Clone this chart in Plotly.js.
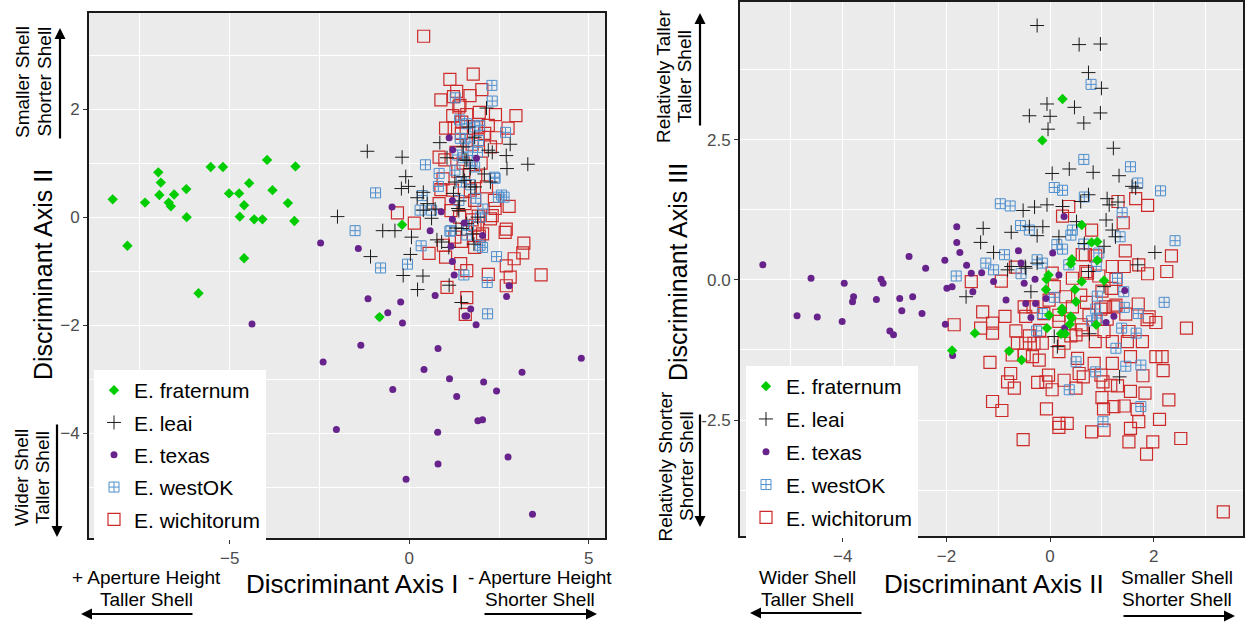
<!DOCTYPE html>
<html>
<head>
<meta charset="utf-8">
<script src="https://cdn.plot.ly/plotly-3.0.1.min.js"></script>
<style>
  html, body { margin: 0; padding: 0; background: #ffffff; }
  #chart { width: 1246px; height: 625px; }
</style>
</head>
<body>
<div id="chart"></div>
<script>
// ---------------- DATA ----------------
const species = ["E. fraternum", "E. leai", "E. texas", "E. westOK", "E. wichitorum"];

// Left panel: Discriminant Axis I (x) vs Discriminant Axis II (y)
const fraternumAx1 = [-8.26,-7.85,-7.36,-6.99,-6.92,-6.96,-6.70,-6.64,-6.55,-6.21,-6.20,-5.87,-5.53,-5.19,-5.02,-4.74,-4.46,-4.60,-4.72,-4.60,-4.32,-4.09,-3.96,-3.81,-3.38,-3.17,-3.20,-0.20,-0.83];
const fraternumAx2 = [0.33,-0.53,0.27,0.83,0.64,0.41,0.27,0.20,0.42,0.52,0.00,-1.41,0.93,0.93,0.44,0.44,0.63,0.22,0.01,-0.76,-0.04,-0.04,1.06,0.50,0.26,0.94,-0.07,-0.14,-1.85];

const leaiAx1 = [-1.17,-0.20,-2.00,-0.10,-0.02,-0.22,0.22,-0.74,-0.40,0.06,-1.08,0.03,-0.17,0.38,0.23,1.11,1.45,3.30,2.81,2.70,2.72,2.31,0.85,1.05,1.65,1.82,2.15,0.39,0.50,0.72,1.38,0.77,1.10,1.60,1.76,1.60,1.54,1.71,1.27,2.09,2.26,0.90,1.46,1.36,0.39,0.62,2.20,1.55,1.50,1.83,1.23,1.50,1.70,1.40,1.90,1.30,1.80];
const leaiAx2 = [1.22,1.11,0.01,0.75,0.57,0.53,0.36,-0.25,-0.25,-0.37,-0.73,-0.69,-1.08,-1.09,-1.34,-1.26,-1.58,0.98,1.35,1.14,0.90,1.20,1.38,1.10,1.67,1.48,2.02,0.46,0.25,0.15,0.12,-0.42,-0.56,-0.12,-0.31,1.05,0.68,0.56,0.65,0.80,0.65,-0.46,-0.21,0.16,0.13,-0.02,1.24,1.06,0.75,0.56,0.44,1.30,0.90,0.30,0.00,-0.20,-0.50];

const texasAx1 = [-2.47,-1.42,-0.48,0.58,0.89,1.11,1.21,1.87,1.20,1.16,1.20,1.25,0.72,-1.15,-0.24,1.71,2.04,2.78,2.71,1.55,1.86,-0.60,-0.83,-4.38,-0.19,1.60,-1.35,0.80,-2.40,0.41,1.12,2.07,3.14,4.79,-0.46,2.43,1.32,1.91,2.04,-2.03,0.79,2.75,0.80,-0.09,3.43,1.20,1.53];
const texasAx2 = [-0.48,-0.58,0.19,-0.25,0.10,1.47,1.25,1.09,-0.04,-0.54,-0.82,-1.07,-1.45,-1.51,-1.57,-1.70,-0.34,-1.27,-1.47,-1.83,-1.99,-1.77,-1.85,-1.98,-1.96,-1.83,-2.37,-2.43,-2.68,-2.82,-2.99,-3.05,-2.87,-2.61,-3.19,-3.22,-3.32,-3.77,-3.75,-3.93,-3.98,-4.44,-4.57,-4.85,-5.50,0.31,-0.11];

const westOKAx1 = [-0.94,-1.51,-0.80,-0.05,0.45,0.36,0.33,0.83,1.42,2.30,2.31,2.68,2.43,1.52,2.17,1.98,2.48,2.64,1.28,2.04,1.16,1.38,1.82,1.60,1.93,2.37,2.18,1.13,1.97,1.60,0.30,0.62,1.83,1.64,1.27,0.81,2.39,2.57,1.50,1.70,1.40,1.90,1.55,1.75,1.45,1.85,1.65,2.05,1.35,1.95];
const westOKAx2 = [0.45,-0.25,-0.94,-0.87,0.97,0.40,-0.53,0.81,1.46,2.44,2.15,1.57,-0.73,-1.07,-1.21,0.00,0.37,0.37,2.21,-0.56,-0.25,0.31,0.93,1.73,1.42,0.74,-1.79,-0.26,-0.52,-0.33,0.13,0.13,1.67,1.30,0.87,0.57,0.72,0.41,1.10,0.60,1.80,1.20,1.45,1.05,0.65,0.35,-0.15,0.15,1.15,1.70];

const wichitorumAx1 = [0.40,1.78,1.13,1.32,2.02,1.69,0.88,1.95,2.40,2.97,1.21,1.01,2.75,2.42,2.26,-0.33,0.14,0.88,2.78,2.70,2.67,3.19,3.16,2.92,2.70,3.67,2.81,2.20,0.55,1.01,1.43,1.60,2.70,1.05,2.26,2.31,1.93,1.38,1.60,0.83,0.94,0.83,1.16,1.82,2.15,2.37,2.04,1.27,1.82,1.60,1.56,0.95,1.92,2.39,1.83,1.23,1.41,1.46,2.20,1.92,0.99,1.50,1.70,1.40,1.90,1.60,1.30,2.00,1.20,1.45,1.75,1.35,1.85,1.55,1.75,1.95,1.45,2.10,1.25];
const wichitorumAx2 = [3.35,2.65,2.55,2.33,2.36,2.25,2.17,1.94,1.90,1.88,1.88,1.65,1.65,1.47,1.30,0.08,-0.11,0.51,0.20,-0.22,-0.28,-0.48,-0.66,-0.77,-0.90,-1.07,-1.11,-1.06,-0.67,-0.74,-0.86,-1.49,-1.27,-1.30,-0.03,0.03,1.67,2.04,1.42,1.11,0.71,0.25,0.12,0.31,0.56,0.31,-0.31,-0.37,-0.56,-0.99,-1.80,-0.52,0.02,0.16,-0.15,2.23,2.07,1.76,1.70,1.43,1.06,1.00,0.50,0.00,-0.20,1.90,1.20,1.00,0.50,1.55,1.35,0.85,0.75,0.25,-0.05,-0.35,-0.45,1.55,1.65];

// Right panel: Discriminant Axis II (x) vs Discriminant Axis III (y)
const fraternumR2 = [0.24,-0.15,0.61,0.80,0.91,0.42,0.40,0.91,-0.03,-0.07,1.04,0.61,-0.08,0.48,0.50,0.23,-0.02,0.40,0.23,0.42,0.38,-0.06,0.21,0.29,0.89,-1.45,-0.79,-0.55,-1.89];
const fraternumR3 = [3.23,2.49,0.98,0.67,0.68,0.37,0.29,0.35,0.09,0.01,-0.01,-0.03,-0.17,-0.17,-0.39,-0.51,-0.63,-0.65,-0.57,-0.68,-0.79,-0.86,-0.96,-0.96,-0.80,-0.95,-1.27,-1.43,-1.26];

const leaiR2 = [-0.25,0.56,0.97,0.74,0.99,-0.06,0.47,-0.40,0.00,0.97,0.65,-0.04,1.22,0.04,0.37,0.83,1.33,1.58,0.74,1.10,1.31,-0.52,-0.30,-0.06,0.24,0.59,-1.29,-0.75,-0.40,-0.14,0.51,1.08,-1.34,-1.09,-0.25,0.17,0.66,1.04,1.26,2.02,1.69,-0.75,-0.48,-0.25,0.74,-1.62,-0.37,1.65,1.14,1.20,1.04,-0.47,-0.82,0.08,0.14,0.76,1.34];
const leaiR3 = [4.54,4.20,4.21,3.70,3.42,3.14,3.08,2.93,2.92,2.98,2.80,2.69,2.35,1.90,1.98,1.92,1.86,1.67,1.52,1.45,1.39,1.24,1.30,1.34,1.31,1.40,0.92,0.85,0.95,0.95,1.04,1.07,0.67,0.49,0.79,0.77,0.65,0.60,0.77,0.49,0.27,0.24,0.24,0.30,0.15,-0.30,-0.21,1.64,1.34,0.89,-0.12,0.21,0.18,-1.01,-1.19,-0.96,-1.73];

const texasR2 = [-5.54,-4.61,-3.97,-3.26,-3.22,-3.79,-3.81,-3.35,-2.90,-2.65,-2.72,-2.40,-2.03,-1.80,-1.80,-1.74,-1.61,-1.52,-1.49,-1.99,-1.89,-0.61,-0.56,-0.50,-0.29,-0.85,-1.09,0.27,0.05,0.17,-4.88,-4.49,-4.01,-3.09,-3.02,-2.86,-2.47,-2.02,-1.88,-0.37,0.28,1.08,1.23,-1.32,-0.47,-0.28,-0.08,1.44];
const texasR3 = [0.27,0.03,-0.06,0.01,-0.06,-0.30,-0.39,-0.35,-0.33,-0.30,0.42,0.21,0.35,0.95,0.67,0.49,0.26,0.12,-0.21,-0.15,-0.12,0.52,0.30,-0.06,0.01,-0.36,-0.03,1.13,0.48,0.09,-0.64,-0.66,-0.74,-0.91,-0.98,-0.55,-0.60,-0.79,-1.35,-0.67,-0.86,-0.76,-0.65,0.13,-0.42,-0.42,-0.33,-0.19];

const westOKR2 = [0.79,0.65,1.55,0.08,0.24,1.69,2.13,-0.96,-0.77,0.66,1.39,2.41,-0.57,-0.40,0.13,0.40,0.65,1.35,-1.24,-1.09,-0.88,-1.81,-0.56,-0.25,0.36,0.89,1.42,2.20,0.43,0.24,-0.15,1.30,0.08,0.91,0.88,1.43,1.70,-0.15,-0.26,0.91,1.38,1.66,1.27,0.50,0.88,1.46,1.75,0.37,1.75,1.02,0.94,0.80];
const westOKR3 = [3.49,2.15,2.02,1.65,1.60,1.73,1.59,1.36,1.32,1.48,1.20,0.70,0.97,0.89,0.63,0.80,0.64,0.77,0.30,0.18,0.45,0.07,0.11,0.36,0.27,0.24,-0.21,-0.40,0.89,0.55,0.30,0.03,-0.31,-0.29,-0.52,-0.49,-0.60,-0.60,-0.91,-0.68,-0.86,-0.95,-1.22,-1.46,-1.64,-1.54,-1.52,-1.96,-2.26,-2.53,0.48,-0.73];

const wichitorumR2 = [1.31,1.65,1.88,0.24,0.36,0.80,1.41,1.45,1.71,1.88,2.25,2.34,0.68,-1.52,-0.94,1.20,1.27,0.88,0.43,0.72,0.94,0.08,0.59,1.19,1.70,1.91,1.46,1.07,0.43,-0.02,0.17,0.75,1.23,1.43,-1.30,-0.87,-0.50,-0.33,-0.67,-0.12,0.04,-1.85,-1.34,-1.11,-1.11,-0.66,-0.47,-0.63,-0.47,-0.31,-0.15,-0.50,-0.34,-0.21,-0.73,-1.16,0.17,0.27,0.50,0.62,0.87,1.04,1.20,1.49,1.52,1.78,1.87,2.04,2.63,0.17,0.53,0.85,0.56,0.64,0.98,1.20,1.55,1.79,2.04,2.16,2.18,-0.76,-0.82,-0.69,-0.24,-0.08,-0.03,0.04,0.27,0.50,1.02,1.17,1.30,1.55,1.83,1.00,-1.11,-0.93,-0.07,1.03,1.23,1.43,1.68,2.29,0.17,0.17,0.33,1.55,1.71,2.11,0.80,1.04,-0.52,1.52,1.98,2.52,1.86,3.34,0.62,0.69,1.27,0.98,0.30,0.70,1.00,0.60,1.10,0.40,-0.20,-0.40];
const wichitorumR3 = [1.40,1.45,1.33,1.14,1.31,0.89,1.02,0.52,0.27,0.11,0.15,0.43,0.45,-0.03,-0.02,0.24,0.01,0.43,0.03,0.12,0.07,-0.12,-0.27,-0.15,-0.43,-0.66,-0.61,-0.48,-0.48,-0.36,-0.63,-0.63,-0.48,0.24,-0.57,-0.65,-0.48,-0.48,0.23,-0.60,0.12,-0.80,-0.86,-0.77,-0.95,-0.91,-0.65,-1.13,-1.13,-1.13,-1.13,-1.34,-1.37,-1.43,-1.34,-1.47,-0.74,-1.13,-0.98,-0.89,-1.10,-0.92,-1.10,-1.10,-0.92,-1.10,-0.71,-0.76,-0.86,-1.28,-1.40,-1.49,-1.67,-1.73,-1.70,-1.49,-1.37,-1.71,-1.37,-1.37,-1.62,-1.67,-1.82,-1.93,-1.83,-1.82,-1.70,-1.96,-1.79,-1.93,-1.82,-1.88,-1.89,-1.99,-2.02,-2.10,-2.17,-2.33,-2.30,-2.30,-2.26,-2.25,-2.31,-2.14,-2.56,-2.63,-2.56,-2.65,-2.53,-2.49,-2.71,-2.68,-2.85,-2.89,-2.89,-2.83,-3.11,-4.14,0.45,0.15,-0.45,-0.52,-0.30,-0.40,-0.20,-0.80,-0.70,-1.00,-0.90,-1.00];

const leftXTicks = [-5, 0, 5];
const leftYTicks = [-4, -2, 0, 2];
const rightXTicks = [-4, -2, 0, 2];
const rightYTicks = [-2.5, 0, 2.5];
const rightYTickText = ["-2.5", "0.0", "2.5"];

// ---------------- STYLE ----------------
const W = 1246, H = 625;
const FONT = "Liberation Sans, Arial, sans-serif";
const styles = {
  "E. fraternum":  {symbol: "diamond", size: 8, color: "#00CD00", lw: 0, rank: 1},
  "E. leai":       {symbol: "cross-thin-open", size: 10, color: "#1A1A1A", lw: 1, rank: 2},
  "E. texas":      {symbol: "circle", size: 7, color: "#68228B", lw: 0, rank: 3},
  "E. westOK":     {symbol: "square-cross-open", size: 10, color: "#4F8FCD", lw: 1, rank: 4},
  "E. wichitorum": {symbol: "square-open", size: 12, color: "#CD2A2A", lw: 1.2, rank: 5}
};

const leftData = {
  "E. fraternum": [fraternumAx1, fraternumAx2],
  "E. leai": [leaiAx1, leaiAx2],
  "E. texas": [texasAx1, texasAx2],
  "E. westOK": [westOKAx1, westOKAx2],
  "E. wichitorum": [wichitorumAx1, wichitorumAx2]
};
const rightData = {
  "E. fraternum": [fraternumR2, fraternumR3],
  "E. leai": [leaiR2, leaiR3],
  "E. texas": [texasR2, texasR3],
  "E. westOK": [westOKR2, westOKR3],
  "E. wichitorum": [wichitorumR2, wichitorumR3]
};

const drawOrder = ["E. wichitorum", "E. westOK", "E. leai", "E. texas", "E. fraternum"];
const traces = [];
function addPanel(data, xa, ya, leg) {
  drawOrder.forEach(function (sp) {
    const s = styles[sp];
    traces.push({
      type: "scatter", mode: "markers", name: sp,
      x: data[sp][0], y: data[sp][1],
      xaxis: xa, yaxis: ya, legend: leg, legendrank: s.rank,
      legendgroup: leg + sp,
      marker: {symbol: s.symbol, size: s.size, color: s.color,
               line: {width: s.lw, color: s.color}},
      hoverinfo: "skip"
    });
  });
}
addPanel(leftData, "x", "y", "legend");
addPanel(rightData, "x2", "y2", "legend2");

function axis(extra) {
  return Object.assign({
    showgrid: true, gridcolor: "#FFFFFF", gridwidth: 1.3,
    zeroline: false, showline: true, mirror: true,
    linecolor: "#1A1A1A", linewidth: 2,
    ticks: "outside", ticklen: 4, tickwidth: 1, tickcolor: "#333333",
    tickfont: {family: FONT, size: 17, color: "#4D4D4D"},
    fixedrange: true
  }, extra);
}

const px = function (v) { return v / W; };
const py = function (v) { return 1 - v / H; };

function label(text, cx, cy, size, angle) {
  return {text: text, x: px(cx), y: py(cy), xref: "paper", yref: "paper",
          xanchor: "center", yanchor: "middle", showarrow: false, align: "center",
          textangle: angle || 0, font: {family: FONT, size: size, color: "#000"}};
}
function arrow(hx, hy, tx, ty) {
  return {text: "", x: px(hx), y: py(hy), xref: "paper", yref: "paper",
          ax: tx - hx, ay: ty - hy, axref: "pixel", ayref: "pixel",
          showarrow: true, arrowhead: 2, arrowsize: 1, arrowwidth: 2.2,
          arrowcolor: "#000", standoff: 0, startstandoff: 0};
}

const NOTE = 19;
const layout = {
  width: W, height: H,
  margin: {l: 0, r: 0, t: 0, b: 0},
  paper_bgcolor: "#FFFFFF",
  plot_bgcolor: "#EBEBEB",
  font: {family: FONT, color: "#000"},
  showlegend: true,
  xaxis: axis({domain: [89 / W, 605 / W], range: [-8.92, 5.45], anchor: "y",
               tickvals: leftXTicks,
               minor: {tick0: 0, dtick: 2.5, showgrid: true, gridcolor: "#FFFFFF", gridwidth: 0.6, ticks: ""}}),
  yaxis: axis({domain: [1 - 538 / H, 1 - 13 / H], range: [-5.94, 3.78], anchor: "x",
               tickvals: leftYTicks,
               minor: {tick0: 0, dtick: 1, showgrid: true, gridcolor: "#FFFFFF", gridwidth: 0.6, ticks: ""}}),
  xaxis2: axis({domain: [740 / W, 1243 / W], range: [-5.98, 3.72], anchor: "y2",
                tickvals: rightXTicks,
                minor: {tick0: 0, dtick: 1, showgrid: true, gridcolor: "#FFFFFF", gridwidth: 0.6, ticks: ""}}),
  yaxis2: axis({domain: [1 - 536 / H, 1 - 2 / H], range: [-4.57, 4.96], anchor: "x2",
                tickvals: rightYTicks, ticktext: rightYTickText,
                minor: {tick0: 0, dtick: 1.25, showgrid: true, gridcolor: "#FFFFFF", gridwidth: 0.6, ticks: ""}}),
  legend: {x: px(94), y: py(370), xanchor: "left", yanchor: "top",
           bgcolor: "#FFFFFF", borderwidth: 0, traceorder: "grouped", tracegroupgap: 2,
           font: {family: FONT, size: 21, color: "#000"}},
  legend2: {x: px(746), y: py(366), xanchor: "left", yanchor: "top",
            bgcolor: "#FFFFFF", borderwidth: 0, traceorder: "grouped", tracegroupgap: 2.5,
            font: {family: FONT, size: 21, color: "#000"}},
  annotations: [
    label("Discriminant Axis I", 352, 584, 26),
    label("Discriminant Axis II", 43, 275, 25, -90),
    label("Discriminant Axis II", 994, 584, 26),
    label("Discriminant Axis III", 678, 272, 25, -90),
    // left panel side notes
    label("Smaller Shell", 23, 82, NOTE, -90),
    label("Shorter Shell", 44.5, 82, NOTE, -90),
    label("Wider Shell", 21, 478, NOTE, -90),
    label("Taller Shell", 42, 478, NOTE, -90),
    label("+ Aperture Height", 146, 577, NOTE),
    label("Taller Shell", 146, 599, NOTE),
    label("- Aperture Height", 540, 577, NOTE),
    label("Shorter Shell", 540, 599, NOTE),
    // right panel side notes
    label("Relatively Taller", 664, 77, NOTE, -90),
    label("Taller Shell", 685, 77, NOTE, -90),
    label("Relatively Shorter", 664.5, 466, NOTE, -90),
    label("Shorter Shell", 686, 466, NOTE, -90),
    label("Wider Shell", 808, 577, NOTE),
    label("Taller Shell", 808, 599, NOTE),
    label("Smaller Shell", 1177, 577, NOTE),
    label("Shorter Shell", 1177, 599, NOTE),
    arrow(60, 28, 60, 140),
    arrow(57, 537, 57, 423),
    arrow(81, 614, 194, 614),
    arrow(597, 614, 483, 614),
    arrow(700, 13, 700, 127),
    arrow(700, 527, 700, 413),
    arrow(750, 613, 863, 613),
    arrow(1235, 616, 1122, 616)
  ]
};

Plotly.newPlot("chart", traces, layout, {displayModeBar: false, responsive: false});
</script>
</body>
</html>
